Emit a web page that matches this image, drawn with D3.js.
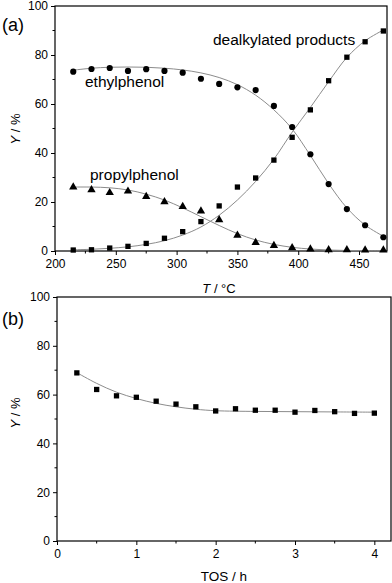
<!DOCTYPE html>
<html>
<head>
<meta charset="utf-8">
<script src="https://cdn.jsdelivr.net/npm/d3@7"></script>
<style>
  body { margin: 0; background: #fff; }
  svg { display: block; font-family: "Liberation Sans", Arial, sans-serif; }
</style>
</head>
<body>
<svg id="chart" width="392" height="583"></svg>
<script>
// panel (a): yield vs temperature
const temps = [215, 230, 245, 260, 275, 290, 305, 320, 335, 350, 365, 380, 395, 410, 425, 440, 455, 470];
const ethylphenol = [73.2, 74.3, 74.7, 73.5, 74.2, 73.5, 72.8, 70.3, 68.2, 66.8, 65.7, 59.2, 50.6, 39.5, 27.3, 17.1, 10.5, 5.6];
const dealkylated = [0.4, 0.5, 1.2, 1.9, 3.1, 5.2, 7.9, 12.0, 18.4, 26.1, 29.8, 37.1, 46.4, 57.6, 69.5, 79.1, 85.4, 89.8];
const propylphenol = [26.1, 25.0, 23.8, 24.4, 22.2, 20.1, 18.1, 16.3, 12.7, 6.4, 3.4, 2.2, 1.3, 0.8, 0.5, 0.5, 0.4, 0.4];

// fitted curves
const fitTemps = [215, 230, 245, 260, 275, 290, 305, 320, 335, 350, 365, 380, 395, 410, 425, 440, 455, 470];
const ethylFit = [73.8, 74.6, 75.0, 75.1, 75.0, 74.6, 73.9, 72.7, 70.8, 67.9, 63.6, 57.6, 49.8, 39.0, 27.5, 17.6, 10.6, 6.0];
const dealkFit = [0.5, 0.7, 1.1, 1.7, 2.7, 4.2, 6.5, 9.8, 14.6, 20.8, 28.4, 37.5, 48.5, 58.6, 69.1, 79.0, 85.8, 90.2];
const propylFit = [26.1, 26.1, 25.8, 24.9, 23.2, 20.8, 17.6, 14.0, 10.4, 7.1, 4.5, 2.7, 1.5, 0.8, 0.4, 0.2, 0.1, 0.1];

const tempTicks = [200, 250, 300, 350, 400, 450];
const yTicks = [0, 20, 40, 60, 80, 100];

// panel (b): yield vs time on stream
const tos = [0.25, 0.5, 0.75, 1.0, 1.25, 1.5, 1.75, 2.0, 2.25, 2.5, 2.75, 3.0, 3.25, 3.5, 3.75, 4.0];
const tosYield = [68.9, 62.1, 59.5, 58.9, 57.3, 56.1, 55.0, 53.3, 54.2, 53.6, 53.6, 52.8, 53.5, 53.0, 52.3, 52.4];
const tosFitX = [0.25, 0.5, 0.75, 1.0, 1.25, 1.5, 1.75, 2.0, 2.5, 3.0, 3.5, 4.0];
const tosFit = [69.0, 64.6, 61.0, 58.4, 56.4, 55.0, 54.0, 53.4, 53.1, 53.0, 52.9, 52.8];
const tosTicks = [0, 1, 2, 3, 4];

const svg = d3.select("#chart");
const sym = {
  circle: d3.symbol().type(d3.symbolCircle).size(30),
  square: d3.symbol().type(d3.symbolSquare).size(28),
  triangle: d3.symbol().type(d3.symbolTriangle).size(30)
};

function drawPanel(opts) {
  const x = d3.scaleLinear().domain(opts.xDomain).range([opts.left, opts.right]);
  const y = d3.scaleLinear().domain([0, 100]).range([opts.bottom, opts.top]);
  const g = svg.append("g");

  // frame
  g.append("rect")
    .attr("x", opts.left).attr("y", opts.top)
    .attr("width", opts.right - opts.left).attr("height", opts.bottom - opts.top)
    .attr("fill", "none").attr("stroke", "#000").attr("stroke-width", 1.2);

  // minor ticks
  g.append("g").selectAll("line").data(opts.xMinor).join("line")
    .attr("x1", d => x(d)).attr("x2", d => x(d))
    .attr("y1", opts.bottom).attr("y2", opts.bottom + 2.5)
    .attr("stroke", "#000");
  g.append("g").selectAll("line").data(d3.range(10, 100, 20)).join("line")
    .attr("x1", opts.left - 2.5).attr("x2", opts.left)
    .attr("y1", d => y(d)).attr("y2", d => y(d))
    .attr("stroke", "#000");

  const xAxis = g.append("g")
    .attr("transform", `translate(0,${opts.bottom})`)
    .call(d3.axisBottom(x).tickValues(opts.xTicks).tickFormat(d3.format("d"))
      .tickSize(4).tickPadding(4).tickSizeOuter(0));
  const yAxis = g.append("g")
    .attr("transform", `translate(${opts.left},0)`)
    .call(d3.axisLeft(y).tickValues(yTicks).tickFormat(d3.format("d"))
      .tickSize(4).tickPadding(3).tickSizeOuter(0));
  [xAxis, yAxis].forEach(a => {
    a.select(".domain").remove();
    a.selectAll("text").attr("font-size", 12).attr("fill", "#000")
      .attr("font-family", "Liberation Sans, Arial, sans-serif");
    a.selectAll("line").attr("stroke", "#000");
  });

  const line = d3.line().x(d => x(d[0])).y(d => y(d[1])).curve(d3.curveCatmullRom);
  opts.fits.forEach(f => {
    g.append("path")
      .datum(d3.zip(f.xs, f.ys))
      .attr("d", line)
      .attr("fill", "none").attr("stroke", "#8c8c8c").attr("stroke-width", 1);
  });
  opts.series.forEach(s => {
    g.append("g").selectAll("path").data(d3.zip(s.xs, s.ys)).join("path")
      .attr("transform", d => `translate(${x(d[0])},${y(d[1])})`)
      .attr("d", sym[s.shape]).attr("fill", "#000");
  });
  return {x, y, g};
}

drawPanel({
  left: 55, right: 387, top: 6, bottom: 251,
  xDomain: [200, 473], xTicks: tempTicks, xMinor: [225, 275, 325, 375, 425],
  fits: [
    {xs: fitTemps, ys: ethylFit},
    {xs: fitTemps, ys: dealkFit},
    {xs: fitTemps, ys: propylFit}
  ],
  series: [
    {xs: temps, ys: ethylphenol, shape: "circle"},
    {xs: temps, ys: dealkylated, shape: "square"},
    {xs: temps, ys: propylphenol, shape: "triangle"}
  ]
});

drawPanel({
  left: 57, right: 391, top: 297, bottom: 541,
  xDomain: [0, 4.21], xTicks: tosTicks, xMinor: [0.5, 1.5, 2.5, 3.5],
  fits: [{xs: tosFitX, ys: tosFit}],
  series: [{xs: tos, ys: tosYield, shape: "square"}]
});

// labels
const txt = (x, y, s, size, anchor) => svg.append("text")
  .attr("x", x).attr("y", y).attr("font-size", size)
  .attr("text-anchor", anchor || "start").attr("fill", "#000").text(s);

txt(2, 31, "(a)", 18);
txt(2, 325, "(b)", 18);
txt(85, 87, "ethylphenol", 15.5);
txt(213, 45, "dealkylated products", 15.5);
txt(90, 180, "propylphenol", 15.5);

const axLabel = (x, y, rotate, italic, rest) => {
  const t = svg.append("text")
    .attr("transform", `translate(${x},${y})` + (rotate ? " rotate(-90)" : ""))
    .attr("text-anchor", "middle").attr("font-size", 13).attr("fill", "#000");
  t.append("tspan").attr("font-style", "italic").text(italic);
  t.append("tspan").text(rest);
};
axLabel(219, 293, false, "T", " / °C");
axLabel(20, 129, true, "Y", " / %");
axLabel(20, 413, true, "Y", " / %");
txt(224, 581, "TOS / h", 13.5, "middle");
</script>
</body>
</html>
